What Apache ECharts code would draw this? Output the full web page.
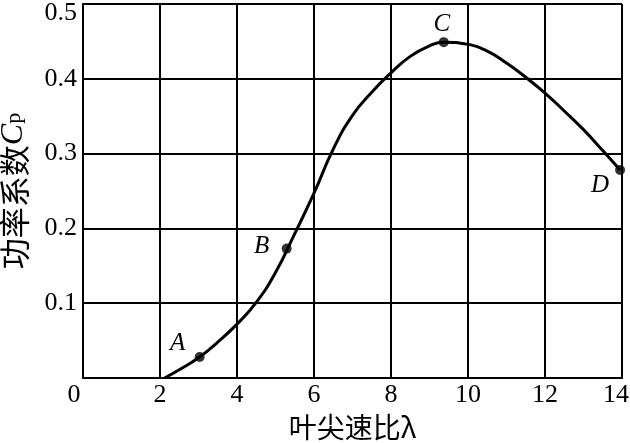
<!DOCTYPE html>
<html>
<head>
<meta charset="utf-8">
<script src="https://cdn.jsdelivr.net/npm/echarts@6/dist/echarts.min.js"></script>
<style>
html,body{margin:0;padding:0;background:#fff;}
#chart{width:630px;height:443px;}
</style>
</head>
<body>
<div id="chart"></div>
<script>
// Data
const curveX = [2.12, 2.5, 3, 3.5, 4, 4.5, 5, 5.5, 6, 6.5, 7, 7.5, 8, 8.5, 9, 9.37, 10, 10.5, 11, 11.5, 12, 12.5, 13, 13.5, 13.95];
const curveY = [0, 0.011, 0.027, 0.048, 0.072, 0.101, 0.141, 0.193, 0.247, 0.306, 0.351, 0.382, 0.408, 0.43, 0.444, 0.449, 0.446, 0.437, 0.421, 0.402, 0.381, 0.357, 0.332, 0.304, 0.278];
const pointNames = ['A', 'B', 'C', 'D'];
const pointX = [3.03, 5.29, 9.37, 13.95];
const pointY = [0.028, 0.173, 0.449, 0.278];
const xTicks = ['0', '2', '4', '6', '8', '10', '12', '14'];
const yTicks = ['0', '0.1', '0.2', '0.3', '0.4', '0.5'];
const xName = '叶尖速比λ';
const yName = '功率系数';

// label offsets (styling, not data)
const labelOffsets = { A: [-22, -14], B: [-25, -2], C: [-2, -18], D: [-20, 15] };

const serif = "'Liberation Serif', 'DejaVu Serif', serif";
const cjk = "'Noto Sans CJK SC', sans-serif";

const chart = echarts.init(document.getElementById('chart'));
const lineData = curveX.map((x, i) => [x, curveY[i]]);
const ptData = pointNames.map((n, i) => ({
  name: n,
  value: [pointX[i], pointY[i]],
  label: { offset: labelOffsets[n] }
}));

chart.setOption({
  backgroundColor: '#fff',
  animation: false,
  grid: { left: 83, right: 8, top: 4, bottom: 65, containLabel: false, outerBoundsMode: 'none' },
  xAxis: {
    type: 'value', min: 0, max: 14, interval: 2,
    name: xName, nameLocation: 'middle', nameGap: 29,
    nameTextStyle: { fontFamily: cjk, fontSize: 28, color: '#000' },
    axisLine: { show: true, onZero: false, lineStyle: { color: '#000', width: 2 } },
    axisTick: { show: false },
    splitLine: { show: true, lineStyle: { color: '#000', width: 2 } },
    axisLabel: {
      color: '#000', fontFamily: serif, fontSize: 26, margin: 4,
      formatter: v => {
        const idx = Math.round(v / 2);
        const t = xTicks[idx];
        if (idx === 0) return '{l|' + t + '}';
        if (idx === xTicks.length - 1) return '{r|' + t + '}';
        return t;
      },
      rich: {
        l: { fontFamily: serif, fontSize: 26, color: '#000', padding: [0, 18, 0, 0] },
        r: { fontFamily: serif, fontSize: 26, color: '#000', padding: [0, 12, 0, 0] }
      }
    }
  },
  yAxis: {
    type: 'value', min: 0, max: 0.5, interval: 0.1,
    name: yName + '{c|C}{p|p}', nameLocation: 'middle', nameGap: 53, nameRotate: 90,
    nameTextStyle: {
      fontFamily: cjk, fontSize: 31, color: '#000',
      rich: {
        c: { fontFamily: serif, fontStyle: 'italic', fontSize: 32, color: '#000' },
        p: { fontFamily: serif, fontSize: 22, color: '#000' }
      }
    },
    axisLine: { show: true, lineStyle: { color: '#000', width: 2 } },
    axisTick: { show: false },
    splitLine: { show: true, lineStyle: { color: '#000', width: 2 } },
    axisLabel: {
      color: '#000', fontFamily: serif, fontSize: 26, margin: 6,
      formatter: v => {
        const idx = Math.round(v * 10);
        if (idx === 0) return '';
        const t = yTicks[idx];
        if (idx === yTicks.length - 1) return '{t|' + t + '}';
        return t;
      },
      rich: {
        t: { fontFamily: serif, fontSize: 26, color: '#000', padding: [18, 0, 0, 0] }
      }
    }
  },
  series: [
    {
      type: 'line', data: lineData, smooth: 0.5, showSymbol: false,
      lineStyle: { color: '#000', width: 3 }, z: 3
    },
    {
      type: 'scatter', data: ptData, symbolSize: 10,
      itemStyle: { color: '#000' }, z: 4,
      label: {
        show: true, position: 'inside', formatter: '{b}',
        fontFamily: serif, fontStyle: 'italic', fontSize: 25, color: '#000',
        textBorderWidth: 0, textBorderColor: 'transparent', opacity: 1
      }
    }
  ]
});
</script>
</body>
</html>
